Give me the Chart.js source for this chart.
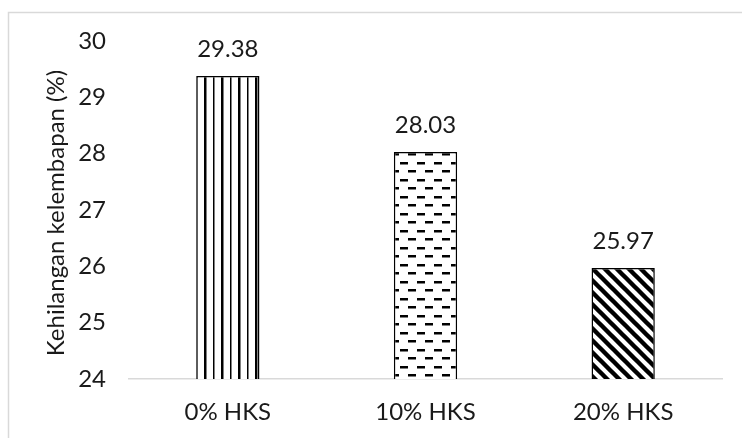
<!DOCTYPE html>
<html>
<head>
<meta charset="utf-8">
<script src="https://cdn.jsdelivr.net/npm/chart.js@4.4.1/dist/chart.umd.min.js"></script>
<style>
  html, body { margin: 0; padding: 0; background: #ffffff; }
  #wrap { width: 742px; height: 438px; position: relative; }
</style>
</head>
<body>
<div id="wrap"><canvas id="chart" width="742" height="438"></canvas></div>
<script>
// Moisture loss per HKS substitution level
const categories = ['0% HKS', '10% HKS', '20% HKS'];
const moistureLoss = [29.38, 28.03, 25.97];
const yTicks = [24, 25, 26, 27, 28, 29, 30];
const yTitle = 'Kehilangan kelembapan (%)';

const FONT = 'Lato, "Open Sans", sans-serif';
const FONT_SIZE = 24;
const TEXT = '#1a1a1a';

// Fill patterns: vertical lines, staggered dashes, diagonal stripes
function makePattern(w, h, draw) {
  const c = document.createElement('canvas');
  c.width = w; c.height = h;
  const g = c.getContext('2d');
  g.fillStyle = '#ffffff';
  g.fillRect(0, 0, w, h);
  g.fillStyle = '#000000';
  g.strokeStyle = '#000000';
  draw(g);
  return g.createPattern(c, 'repeat');
}
const ctxMain = document.getElementById('chart').getContext('2d');
const vertical = makePattern(17, 4, g => {
  g.fillRect(0, 0, 2.5, 4);
  g.fillRect(9, 0, 1.5, 4);
});
const dashes = makePattern(17, 17, g => {
  g.fillRect(0, 0, 8, 2.5);
  g.fillRect(9, 9, 8, 2.5);
});
const diagonal = makePattern(12, 12, g => {
  g.lineWidth = 4.4;
  g.beginPath();
  g.moveTo(-3, -3); g.lineTo(15, 15);
  g.moveTo(-15, -3); g.lineTo(3, 15);
  g.moveTo(9, -3); g.lineTo(27, 15);
  g.stroke();
});

const valueLabels = {
  id: 'valueLabels',
  afterDatasetsDraw(chart) {
    const { ctx } = chart;
    const meta = chart.getDatasetMeta(0);
    ctx.save();
    ctx.font = FONT_SIZE + 'px ' + FONT;
    ctx.fillStyle = TEXT;
    ctx.textAlign = 'center';
    ctx.textBaseline = 'alphabetic';
    meta.data.forEach((bar, i) => {
      ctx.fillText(moistureLoss[i].toFixed(2), bar.x, bar.y - 19);
    });
    ctx.restore();
  }
};

const frameAndTitle = {
  id: 'frameAndTitle',
  beforeDraw(chart) {
    const { ctx } = chart;
    ctx.save();
    ctx.strokeStyle = '#d9d9d9';
    ctx.lineWidth = 1.5;
    ctx.beginPath();
    ctx.moveTo(8.5, 460);
    ctx.lineTo(8.5, 12.5);
    ctx.lineTo(760, 12.5);
    ctx.stroke();
    ctx.restore();
  },
  afterDraw(chart) {
    const { ctx } = chart;
    ctx.save();
    ctx.translate(56, 213);
    ctx.rotate(-Math.PI / 2);
    ctx.font = FONT_SIZE + 'px ' + FONT;
    ctx.fillStyle = TEXT;
    ctx.textAlign = 'center';
    ctx.textBaseline = 'middle';
    ctx.fillText(yTitle, 0, 0);
    ctx.restore();
  }
};

new Chart(ctxMain, {
  type: 'bar',
  data: {
    labels: categories,
    datasets: [{
      data: moistureLoss,
      backgroundColor: [vertical, dashes, diagonal],
      borderColor: '#000000',
      borderWidth: 1.5,
      borderSkipped: false,
      categoryPercentage: 1,
      barPercentage: 0.32
    }]
  },
  options: {
    responsive: false,
    animation: false,
    devicePixelRatio: 1,
    layout: { padding: { left: 0, right: 20, top: 41, bottom: 0 } },
    plugins: { legend: { display: false }, tooltip: { enabled: false } },
    scales: {
      x: {
        grid: { display: false, drawTicks: false },
        border: { display: true, color: '#d9d9d9', width: 1.5 },
        ticks: { font: { family: FONT, size: FONT_SIZE }, color: TEXT, padding: 19 },
        afterFit(s) { s.height = 59; }
      },
      y: {
        min: 24, max: 30,
        afterBuildTicks(s) { s.ticks = yTicks.map(v => ({ value: v })); },
        grid: { display: false, drawTicks: false },
        border: { display: false },
        ticks: { font: { family: FONT, size: FONT_SIZE }, color: TEXT, padding: 23 },
        afterFit(s) { s.width = 129; }
      }
    }
  },
  plugins: [frameAndTitle, valueLabels]
});
</script>
</body>
</html>
